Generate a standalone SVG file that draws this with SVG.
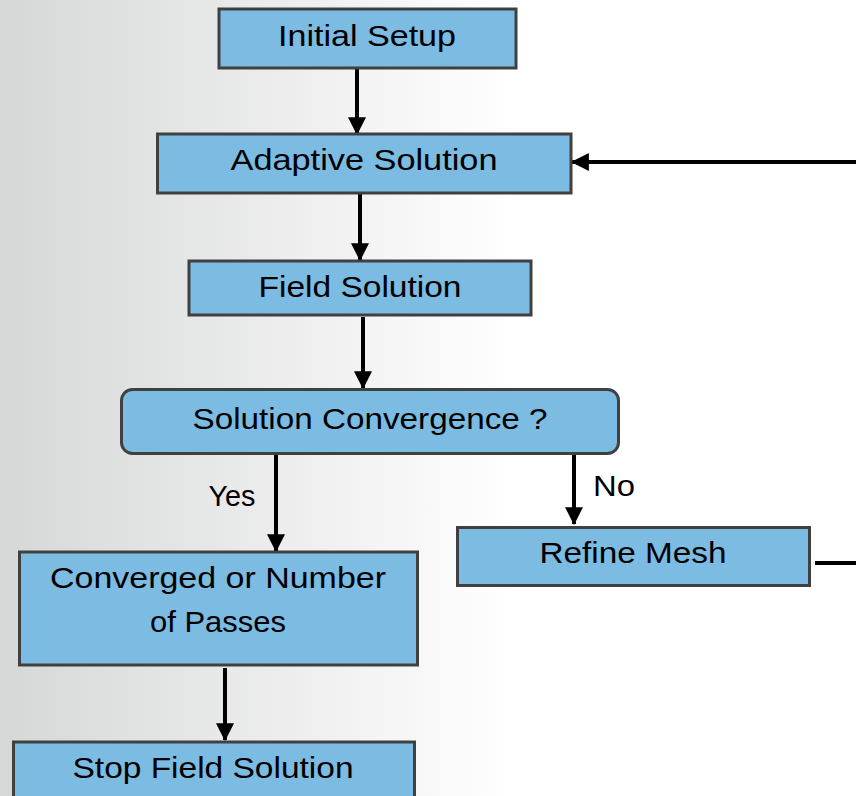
<svg xmlns="http://www.w3.org/2000/svg" width="856" height="796" viewBox="0 0 856 796">
<defs>
<linearGradient id="bg" x1="0" y1="0" x2="856" y2="0" gradientUnits="userSpaceOnUse">
<stop offset="0" stop-color="#d6d7d7"/>
<stop offset="0.6" stop-color="#ffffff"/>
<stop offset="1" stop-color="#ffffff"/>
</linearGradient>
<marker id="ah" markerUnits="userSpaceOnUse" markerWidth="18" markerHeight="18" viewBox="0 0 16 16" refX="15" refY="8" orient="auto">
<path d="M0,0 L16,8 L0,16 Z" fill="#000"/>
</marker>
<style>
.box{fill:#7cbbe2;stroke:#404040;stroke-width:3}
.t{font-family:"Liberation Sans",Arial,sans-serif;font-size:30px;fill:#000;text-anchor:middle}
.lbl{font-family:"Liberation Sans",Arial,sans-serif;font-size:30px;fill:#000;text-anchor:middle}
.c{stroke:#000;stroke-width:4;fill:none}
.ca{stroke:#000;stroke-width:4;fill:none;marker-end:url(#ah)}
</style>
</defs>
<rect x="0" y="0" width="856" height="796" fill="url(#bg)"/>
<g id="connectors">
<line class="ca" x1="357" y1="69" x2="357" y2="134"/>
<line class="ca" x1="360" y1="194" x2="360" y2="260"/>
<line class="ca" x1="363" y1="317" x2="363" y2="388"/>
<line class="ca" x1="276" y1="455" x2="276" y2="551"/>
<line class="ca" x1="574" y1="455" x2="574" y2="524"/>
<line class="ca" x1="225" y1="668" x2="225" y2="740"/>
<line class="c" x1="815" y1="563" x2="856" y2="563"/>
<line class="ca" x1="856" y1="162" x2="572" y2="162"/>
<text class="lbl" x="232" y="506" textLength="47" lengthAdjust="spacingAndGlyphs">Yes</text>
<text class="lbl" x="614" y="496" textLength="42" lengthAdjust="spacingAndGlyphs">No</text>
</g>
<g id="initial-setup">
<rect class="box" x="219" y="9" width="297" height="59"/>
<text class="t" x="367" y="46" textLength="178" lengthAdjust="spacingAndGlyphs">Initial Setup</text>
</g>
<g id="adaptive-solution">
<rect class="box" x="157.5" y="134" width="413.5" height="59"/>
<text class="t" x="364" y="170" textLength="267" lengthAdjust="spacingAndGlyphs">Adaptive Solution</text>
</g>
<g id="field-solution">
<rect class="box" x="189" y="261" width="342" height="54"/>
<text class="t" x="360" y="297" textLength="203" lengthAdjust="spacingAndGlyphs">Field Solution</text>
</g>
<g id="solution-convergence">
<rect class="box" x="121.5" y="389.5" width="497" height="64" rx="11"/>
<text class="t" x="370" y="429" textLength="355" lengthAdjust="spacingAndGlyphs">Solution Convergence ?</text>
</g>
<g id="refine-mesh">
<rect class="box" x="457.5" y="527.5" width="352" height="58"/>
<text class="t" x="633" y="563" textLength="187" lengthAdjust="spacingAndGlyphs">Refine Mesh</text>
</g>
<g id="converged">
<rect class="box" x="19.5" y="552" width="398" height="113"/>
<text class="t" x="218" y="588" textLength="336" lengthAdjust="spacingAndGlyphs">Converged or Number</text>
<text class="t" x="218" y="632" textLength="136" lengthAdjust="spacingAndGlyphs">of Passes</text>
</g>
<g id="stop-field-solution">
<rect class="box" x="13.5" y="742" width="401" height="62"/>
<text class="t" x="213" y="778" textLength="281" lengthAdjust="spacingAndGlyphs">Stop Field Solution</text>
</g>
</svg>
